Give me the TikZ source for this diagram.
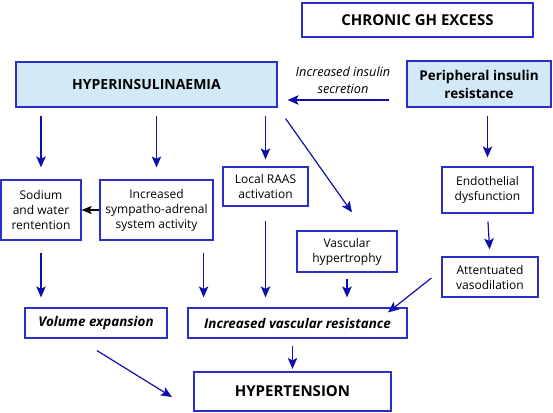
\documentclass[tikz,border=0pt]{standalone}
\usepackage{fontspec}
\setmainfont{Open Sans}
\usetikzlibrary{arrows.meta}
\definecolor{frameblue}{RGB}{45,45,200}
\definecolor{arrowblue}{RGB}{15,15,170}
\definecolor{paleblue}{RGB}{210,233,247}
\tikzset{
	box/.style={draw=frameblue, line width=1.2pt, rectangle, align=center, inner sep=0pt, font=\fontsize{12}{15}\selectfont},
	bluebox/.style={box, fill=paleblue, font=\bfseries\fontsize{13.5}{18}\selectfont},
	thickbox/.style={box, line width=2.2pt, font=\bfseries\fontsize{15}{17}\selectfont},
	ibox/.style={box, font=\bfseries\itshape\fontsize{13.4}{17}\selectfont},
	arr/.style={draw=arrowblue, line width=1.2pt, -{Stealth[length=11pt, width=9.5pt, inset=2.5pt]}, shorten <=8pt, shorten >=10pt}
}
\begin{document}
\begin{tikzpicture}[x=1pt, y=-1pt]
		\useasboundingbox (0,0) rectangle (553,412);
		% Top row
		\node[thickbox, minimum width=231pt, minimum height=34pt] (chronic) at (417.5,20) {CHRONIC GH EXCESS};
		\node[bluebox, minimum width=261pt, minimum height=45pt, font=\bfseries\fontsize{14}{17}\selectfont] (hyper) at (146.5,84.5) {HYPERINSULINAEMIA};
		\node[bluebox, minimum width=144pt, minimum height=46pt] (periph) at (479,84) {Peripheral insulin\\resistance};
		\node[align=center, font=\itshape\fontsize{12.7}{17}\selectfont] (secr) at (343,80) {Increased insulin\\secretion};

		% Middle boxes
		\node[box, minimum width=80pt, minimum height=60pt] (sodium) at (41,210) {Sodium\\and water\\rentention};
		\node[box, minimum width=113pt, minimum height=60pt] (sympa) at (156.5,210) {Increased\\sympatho-adrenal\\system activity};
		\node[box, minimum width=85pt, minimum height=39pt] (raas) at (265.5,186.5) {Local RAAS\\activation};
		\node[box, minimum width=100pt, minimum height=41pt] (vhyp) at (347,251.5) {Vascular\\hypertrophy};
		\node[box, minimum width=91pt, minimum height=46pt] (endo) at (487.5,190) {Endothelial\\dysfunction};
		\node[box, minimum width=96pt, minimum height=40pt] (atten) at (490,277) {Attentuated\\vasodilation};

		% Bottom boxes
		\node[ibox, minimum width=142pt, minimum height=30pt] (volume) at (96,323) {Volume expansion};
		\node[ibox, minimum width=219pt, minimum height=30pt] (ivr) at (297.5,323) {Increased vascular resistance};
		\node[thickbox, minimum width=197pt, minimum height=39pt] (hyten) at (292.5,391.5) {HYPERTENSION};

		% Arrows
		\draw[arr, shorten <=17pt] ([yshift=-16pt]periph.west) -- ([yshift=-16pt]periph.west -| hyper.east);
		\draw[arr, shorten >=12pt] (hyper.south -| sodium.north) -- (sodium.north);
		\draw[arr, shorten >=12pt] (hyper.south -| sympa.north) -- (sympa.north);
		\draw[arr, shorten >=7pt] (hyper.south -| raas.north) -- (raas.north);
		\draw[arr, shorten <=0pt, shorten >=0pt] ([shift={(8pt,-11pt)}]hyper.south east) -- ([shift={(5pt,18pt)}]vhyp.north);
		\draw[arr, shorten >=9pt] (periph.south -| endo.north) -- (endo.north);
		\draw[arr, shorten >=7pt] (endo.south) -- (atten.north);
		\draw[-{Stealth[length=10pt, width=8pt, inset=2pt]}, line width=1.2pt] (sympa.west) -- (sodium.east);
		\draw[arr, shorten <=12pt] (sodium.south) -- (sodium.south |- volume.north);
		\draw[arr, shorten <=12pt] ([xshift=-10pt]sympa.south east) -- ([xshift=-10pt]sympa.south east |- ivr.north);
		\draw[arr, shorten <=14pt] (raas.south) -- (raas.south |- ivr.north);
		\draw[arr, shorten <=6pt] (vhyp.south) -- (vhyp.south |- ivr.north);
		\draw[arr, shorten <=0pt, shorten >=0pt] ([shift={(-10pt,-1pt)}]atten.west) -- ([shift={(90.5pt,-5pt)}]ivr.north);
		\draw[arr, shorten <=0pt, shorten >=0pt] ([shift={(1pt,-12pt)}]volume.south) -- ([shift={(-21pt,-5.5pt)}]hyten.west);
		\draw[arr, shorten <=7pt, shorten >=2pt] (ivr.south -| hyten.north) -- (hyten.north);
	\end{tikzpicture}
\end{document}
